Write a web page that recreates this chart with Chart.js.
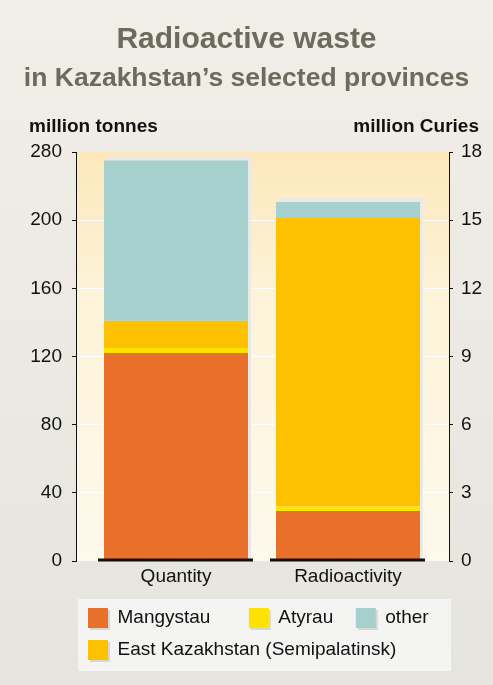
<!DOCTYPE html>
<html>
<head>
<meta charset="utf-8">
<script src="https://cdn.jsdelivr.net/npm/chart.js@4.4.1/dist/chart.umd.min.js"></script>
<style>
  html, body { margin: 0; padding: 0; }
  body { width: 493px; height: 685px; overflow: hidden; background: linear-gradient(#f1efe7, #e5e4de); }
  canvas { display: block; }
</style>
</head>
<body>
<canvas id="myChart" width="493" height="685"></canvas>
<script>
const categories = ['Quantity', 'Radioactivity'];
const provinces = ['Mangystau', 'Atyrau', 'East Kazakhstan (Semipalatinsk)', 'other'];
const quantityMt = [122, 3, 16, 94];        // million tonnes (left axis)
const activityMCi = [2.2, 0.2, 12.7, 0.7];  // million Curies (right axis)
const leftTickLabels = ['0', '40', '80', '120', '160', '200', '280'];
const rightTickLabels = ['0', '3', '6', '9', '12', '15', '18'];
const colors = ['#e9702b', '#ffe300', '#fdc101', '#a5d0cd'];
const legendOrder = ['Mangystau', 'Atyrau', 'other', 'East Kazakhstan (Semipalatinsk)'];
const legendSpaces = [5, 2, 0, 0]; // extra gap after each legend entry

const FONT = '"Liberation Sans", Arial, sans-serif';
const ctx = document.getElementById('myChart');

const datasets = [];
provinces.forEach((name, i) => {
  datasets.push({ label: name, yAxisID: 'y', data: [{ x: 0, y: quantityMt[i] }],
    backgroundColor: colors[i], borderWidth: 0, grouped: false });
});
provinces.forEach((name, i) => {
  datasets.push({ label: name, yAxisID: 'y1', data: [{ x: 1, y: activityMCi[i] }],
    backgroundColor: colors[i], borderWidth: 0, grouped: false });
});

// background panel, bar shadows, baselines, axis unit titles
const decor = {
  id: 'decor',
  beforeDraw(chart) {
    const { ctx, chartArea: a } = chart;
    ctx.save();
    const g = ctx.createLinearGradient(0, a.top, 0, a.bottom);
    g.addColorStop(0, '#fce8bb');
    g.addColorStop(0.35, '#fdf3d8');
    g.addColorStop(1, '#fef9ec');
    ctx.fillStyle = g;
    ctx.fillRect(a.left + 1, a.top, a.right - a.left - 1, a.bottom - a.top);

    const lg = chart.legend;
    ctx.fillStyle = '#f4f5f2';
    ctx.fillRect(lg.left + 2, lg.top + 3, lg.width, lg.height - 2);
    ctx.fillStyle = '#d8d8d2';
    lg.legendHitBoxes.forEach(h => ctx.fillRect(h.left + 2, h.top + 2, 20, 20));
    ctx.restore();
  },
  beforeDatasetsDraw(chart) {
    const { ctx } = chart;
    ctx.save();
    ctx.fillStyle = '#e9e9e5';
    stackBounds(chart).forEach(b => {
      ctx.fillRect(b.left + 3, b.top - 4, b.right - b.left, b.base - b.top + 4);
    });
    ctx.restore();
  },
  afterDatasetsDraw(chart) {
    const { ctx } = chart;
    ctx.save();
    ctx.strokeStyle = '#111';
    ctx.lineWidth = 3;
    stackBounds(chart).forEach(b => {
      ctx.beginPath();
      ctx.moveTo(b.left - 6, b.base - 0.5);
      ctx.lineTo(b.right + 5, b.base - 0.5);
      ctx.stroke();
    });
    ctx.restore();
  },
  afterDraw(chart) {
    const { ctx } = chart;
    ctx.save();
    ctx.font = 'bold 19px ' + FONT;
    ctx.fillStyle = '#111';
    ctx.textBaseline = 'alphabetic';
    ctx.textAlign = 'left';
    ctx.fillText('million tonnes', 29, 132);
    ctx.textAlign = 'right';
    ctx.fillText('million Curies', 479, 132);
    ctx.restore();
  }
};

function stackBounds(chart) {
  return categories.map((c, i) => {
    let b = null;
    chart.data.datasets.forEach((ds, di) => {
      const meta = chart.getDatasetMeta(di);
      meta.data.forEach((el, j) => {
        if (ds.data[j].x !== i) return;
        const p = el.getProps(['x', 'y', 'base', 'width'], true);
        const left = p.x - p.width / 2, right = p.x + p.width / 2;
        if (!b) b = { left, right, top: p.y, base: p.base };
        b.top = Math.min(b.top, p.y);
        b.base = Math.max(b.base, p.base);
      });
    });
    return b;
  }).filter(Boolean);
}

new Chart(ctx, {
  type: 'bar',
  data: { datasets },
  plugins: [decor],
  options: {
    responsive: false,
    animation: false,
    layout: { padding: { left: 0, right: 0, top: 0, bottom: 15 } },
    scales: {
      x: {
        type: 'linear',
        offset: false,
        min: -0.5814,
        max: 1.5872,
        stacked: true,
        grid: { display: false, drawTicks: false },
        border: { display: false },
        afterBuildTicks: scale => { scale.ticks = categories.map((c, i) => ({ value: i })); },
        afterFit: scale => { scale.height = 35; },
        ticks: {
          padding: 4,
          color: '#111',
          font: { family: FONT, size: 19 },
          callback: v => categories[v]
        }
      },
      y: {
        position: 'left',
        stacked: true,
        min: 0,
        max: 240,
        afterFit: scale => { scale.width = 76; },
        grid: {
          color: c => (c.index === 0 || c.index === 6) ? 'rgba(0,0,0,0)' : '#ffffff',
          tickColor: '#111',
          tickLength: 4
        },
        border: { color: '#111', width: 1 },
        ticks: {
          stepSize: 40,
          padding: 10,
          color: '#111',
          font: { family: FONT, size: 19 },
          callback: (v, i) => leftTickLabels[i]
        }
      },
      y1: {
        position: 'right',
        stacked: true,
        min: 0,
        max: 18,
        afterFit: scale => { scale.width = 44; },
        grid: { drawOnChartArea: false, tickColor: '#111', tickLength: 4 },
        border: { color: '#111', width: 1 },
        ticks: {
          stepSize: 3,
          padding: 8,
          color: '#111',
          font: { family: FONT, size: 19 },
          callback: (v, i) => rightTickLabels[i]
        }
      }
    },
    datasets: { bar: { barPercentage: 0.8372, categoryPercentage: 1 } },
    plugins: {
      title: {
        display: true,
        text: 'Radioactive waste',
        color: '#6d6b5d',
        font: { family: FONT, size: 30, weight: 'bold' },
        padding: { top: 22, bottom: 0 }
      },
      subtitle: {
        display: true,
        text: 'in Kazakhstan\u2019s selected provinces',
        color: '#6d6b5d',
        font: { family: FONT, size: 26.5, weight: 'bold' },
        padding: { top: 5, bottom: 57.2 }
      },
      legend: {
        position: 'bottom',
        align: 'start',
        fullSize: false,
        labels: {
          boxWidth: 20,
          boxHeight: 20,
          padding: 12,
          color: '#111',
          font: { family: FONT, size: 19 },
          generateLabels(chart) {
            const items = Chart.defaults.plugins.legend.labels.generateLabels(chart)
              .filter(it => chart.data.datasets[it.datasetIndex].yAxisID === 'y');
            items.sort((a, b) => legendOrder.indexOf(a.text) - legendOrder.indexOf(b.text));
            items.forEach((it, k) => { it.text = it.text + ' '.repeat(legendSpaces[k]); it.lineWidth = 0; });
            return items;
          }
        }
      },
      tooltip: { enabled: false }
    }
  }
});
</script>
</body>
</html>
